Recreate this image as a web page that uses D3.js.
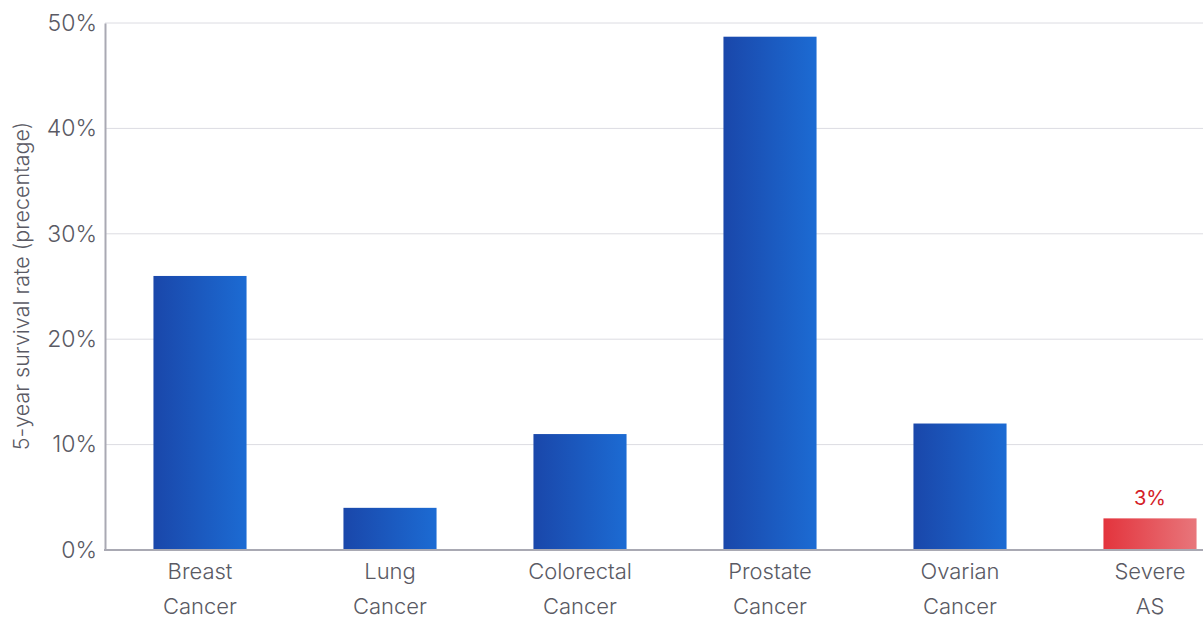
<!doctype html>
<html>
  <head>
    <meta charset="utf-8">
    <title>5-year survival rate</title>
    <script src="https://cdnjs.cloudflare.com/ajax/libs/d3/7.8.5/d3.min.js"></script>
    <style>
      body { margin: 0; background: #fff; }
      text { font-family: Inter, Roboto, sans-serif; font-weight: 300; }
    </style>
  </head>
  <body>
    <div id="chart"></div>
    <script>
      // data
      const categories = [["Breast", "Cancer"], ["Lung", "Cancer"], ["Colorectal", "Cancer"],
                          ["Prostate", "Cancer"], ["Ovarian", "Cancer"], ["Severe", "AS"]];
      const values = [26, 4, 11, 48.7, 12, 3];
      const yTicks = [0, 10, 20, 30, 40, 50];

      const width = 1203, height = 630;
      const mLeft = 105, mTop = 23, mBottom = 550;

      const svg = d3.select('#chart').append('svg')
        .attr('width', width)
        .attr('height', height);

      const defs = svg.append('defs');
      const blue = defs.append('linearGradient').attr('id', 'blue');
      blue.append('stop').attr('offset', '0%').attr('stop-color', '#1a47aa');
      blue.append('stop').attr('offset', '100%').attr('stop-color', '#1c6bd3');
      const red = defs.append('linearGradient').attr('id', 'red');
      red.append('stop').attr('offset', '0%').attr('stop-color', '#e3343d');
      red.append('stop').attr('offset', '100%').attr('stop-color', '#e8767b');

      const x = d3.scaleBand()
        .domain(d3.range(categories.length))
        .range([mLeft, mLeft + 6 * 190])
        .paddingInner(0.51)
        .paddingOuter(0.255);

      const y = d3.scaleLinear().domain([0, 50]).range([mBottom, mTop]);

      // gridlines
      svg.append('g')
        .selectAll('line')
        .data(yTicks.slice(1))
        .join('line')
        .attr('x1', mLeft).attr('x2', width)
        .attr('y1', d => y(d)).attr('y2', d => y(d))
        .attr('stroke', '#dcdce2').attr('stroke-width', 1);

      // bars
      svg.append('g')
        .selectAll('rect')
        .data(values)
        .join('rect')
        .attr('x', (d, i) => x(i))
        .attr('width', x.bandwidth())
        .attr('y', d => y(d))
        .attr('height', d => mBottom - y(d))
        .attr('fill', (d, i) => i == values.length - 1 ? 'url(#red)' : 'url(#blue)');

      // value label for the last bar
      const last = values.length - 1;
      svg.append('text')
        .attr('x', x(last) + x.bandwidth() / 2)
        .attr('y', y(values[last]) - 13)
        .attr('text-anchor', 'middle')
        .attr('fill', '#d42027')
        .style('font-size', '20px')
        .style('font-weight', 400)
        .text(values[last] + '%');

      // y axis
      const yAxis = svg.append('g')
        .attr('transform', `translate(${mLeft},0)`)
        .call(d3.axisLeft(y).tickValues(yTicks).tickFormat(d => d + '%').tickSize(0).tickPadding(8));
      yAxis.select('.domain').attr('stroke', '#a9a9b3').attr('stroke-width', 2);
      yAxis.selectAll('text')
        .attr('fill', '#5a5a64')
        .style('font-size', '23px')
        .style('font-family', 'Inter, Roboto, sans-serif');

      // baseline
      svg.append('line')
        .attr('x1', mLeft - 1).attr('x2', width)
        .attr('y1', mBottom).attr('y2', mBottom)
        .attr('stroke', '#a9a9b3').attr('stroke-width', 2);

      // category labels
      const labels = svg.append('g')
        .selectAll('text')
        .data(categories)
        .join('text')
        .attr('text-anchor', 'middle')
        .attr('fill', '#5a5a64')
        .style('font-size', '22px')
        .attr('transform', (d, i) => `translate(${x(i) + x.bandwidth() / 2},0)`);
      labels.append('tspan').attr('x', 0).attr('y', 579).text(d => d[0]);
      labels.append('tspan').attr('x', 0).attr('y', 614).text(d => d[1]);

      // y title
      svg.append('text')
        .attr('transform', `translate(29,286) rotate(-90)`)
        .attr('text-anchor', 'middle')
        .attr('fill', '#5a5a64')
        .style('font-size', '21.5px')
        .text('5-year survival rate (precentage)');
    </script>
  </body>
</html>
